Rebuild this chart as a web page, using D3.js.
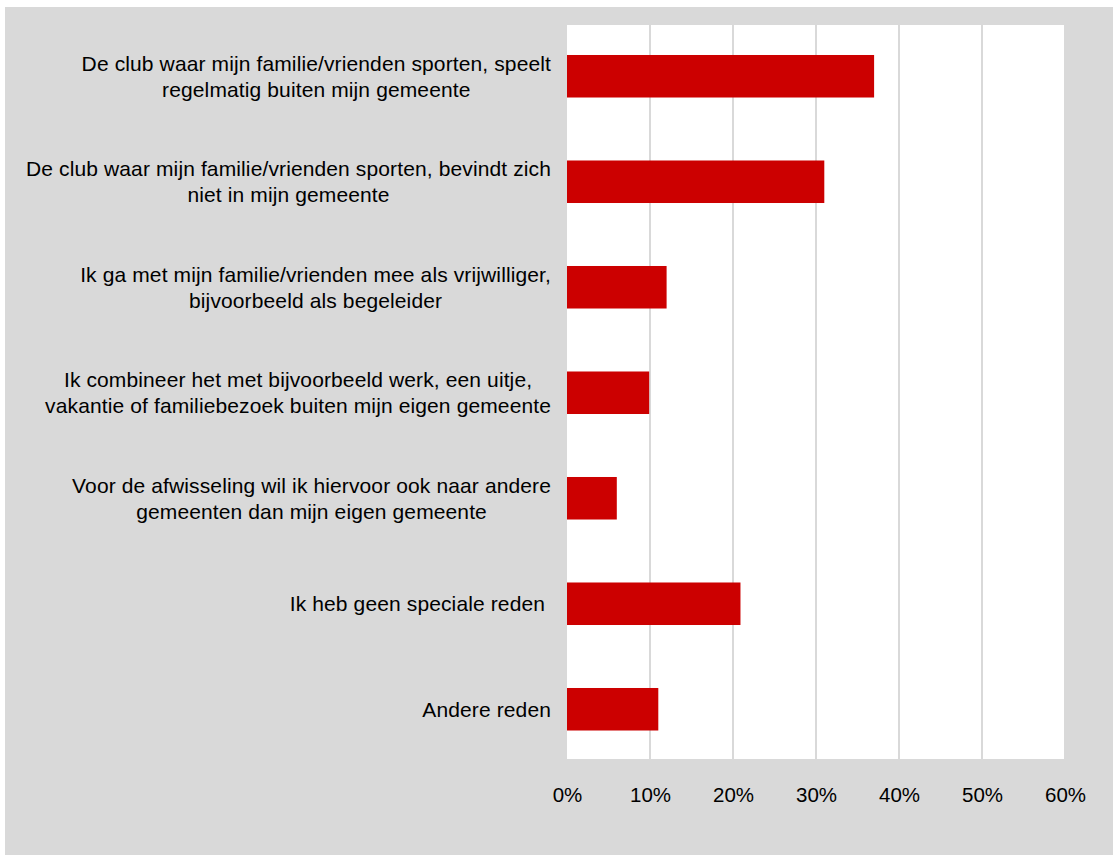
<!DOCTYPE html>
<html>
<head>
<meta charset="utf-8">
<script src="https://cdn.jsdelivr.net/npm/d3@7/dist/d3.min.js"></script>
<style>
  html, body { margin: 0; padding: 0; background: #ffffff; }
  svg { display: block; }
  text { font-family: Arial, "Liberation Sans", sans-serif; fill: #000; }
</style>
</head>
<body>
<svg id="chart" width="1113" height="855"></svg>
<script>
// ---- data ----
const categories = [
  ["De club waar mijn familie/vrienden sporten, speelt", "regelmatig buiten mijn gemeente"],
  ["De club waar mijn familie/vrienden sporten, bevindt zich", "niet in mijn gemeente"],
  ["Ik ga met mijn familie/vrienden mee als vrijwilliger,", "bijvoorbeeld als begeleider"],
  ["Ik combineer het met bijvoorbeeld werk, een uitje,", "vakantie of familiebezoek buiten mijn eigen gemeente"],
  ["Voor de afwisseling wil ik hiervoor ook naar andere", "gemeenten dan mijn eigen gemeente"],
  ["Ik heb geen speciale reden "],
  ["Andere reden"]
];
const values = [0.37, 0.31, 0.12, 0.099, 0.06, 0.209, 0.11];
const tickValues = [0, 0.1, 0.2, 0.3, 0.4, 0.5, 0.6];
const tickLabels = ["0%", "10%", "20%", "30%", "40%", "50%", "60%"];

// ---- layout ----
const svg = d3.select("#chart");
const plot = { left: 567, right: 1065, top: 25, bottom: 759 };
const fontSize = 21;
const letterSpacing = 0.12;
const lineH = 26;
const labelRight = 551;

// outer panel
svg.append("rect").attr("x", 5).attr("y", 7).attr("width", 1108).attr("height", 848).attr("fill", "#d9d9d9");
// plot area
svg.append("rect").attr("x", plot.left).attr("y", plot.top)
  .attr("width", plot.right - plot.left).attr("height", plot.bottom - plot.top).attr("fill", "#ffffff");

const x = d3.scaleLinear().domain([0, 0.6]).range([plot.left, plot.right]);
const idx = d3.range(categories.length);
const y = d3.scaleBand().domain(idx).range([23.5, 762]).paddingInner(0.597).paddingOuter(0.2985);

// gridlines
svg.append("g").selectAll("line").data(tickValues.slice(1)).join("line")
  .attr("x1", d => x(d)).attr("x2", d => x(d))
  .attr("y1", plot.top).attr("y2", plot.bottom)
  .attr("stroke", "#d9d9d9").attr("stroke-width", 2);

// bars
svg.append("g").selectAll("rect").data(idx).join("rect")
  .attr("x", x(0)).attr("y", i => y(i))
  .attr("width", i => x(values[i]) - x(0)).attr("height", y.bandwidth())
  .attr("fill", "#cc0000");

// x axis tick labels
const xAxis = d3.axisBottom(x).tickValues(tickValues).tickFormat((d, i) => tickLabels[i]).tickSize(0).tickPadding(0);
const gx = svg.append("g").attr("transform", `translate(0,${plot.bottom})`).call(xAxis);
gx.select(".domain").remove();
gx.selectAll("text").attr("font-size", 20.5).attr("font-family", "Arial, 'Liberation Sans', sans-serif")
  .attr("fill", "#000").attr("y", 43).attr("dy", null);

// category labels: lines centered within a right-aligned block
const lg = svg.append("g");
idx.forEach(i => {
  const lines = categories[i];
  const cy = y(i) + y.bandwidth() / 2;
  const g = lg.append("g");
  const texts = lines.map((ln, k) => g.append("text")
    .attr("font-size", fontSize)
    .attr("letter-spacing", letterSpacing)
    .attr("xml:space", "preserve")
    .style("white-space", "pre")
    .attr("text-anchor", "middle")
    .attr("y", cy + (k - (lines.length - 1) / 2) * lineH + 0.36 * fontSize)
    .text(ln));
  const widths = texts.map(t => t.node().getComputedTextLength());
  const w = d3.max(widths);
  texts.forEach(t => t.attr("x", labelRight - w / 2));
});
</script>
</body>
</html>
